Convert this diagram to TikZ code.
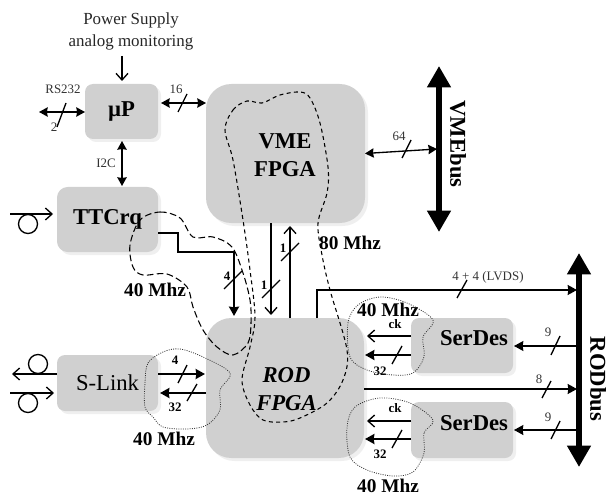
\documentclass[tikz,border=0pt]{standalone}
\usepackage{fontspec}
\setmainfont{Liberation Serif}
\usetikzlibrary{arrows.meta}
\definecolor{boxgray}{HTML}{D0D0D0}
\definecolor{shadowgray}{HTML}{EFEFEF}
\tikzset{
  blockbox/.style={fill=boxgray,draw=none,inner sep=0pt,outer sep=0pt,align=center,font=\fontsize{17}{21}\selectfont\bfseries},
  smallround/.style={rounded corners=6pt},
  biground/.style={rounded corners=19pt},
  shade box/.style={fill=shadowgray,draw=none},
  wire/.style={line width=1pt,black},
  thickwire/.style={line width=1.5pt,black},
  solid tip/.style={-{Stealth[length=7pt,width=7.5pt,inset=0.5pt]}},
  both tip/.style={{Stealth[length=6.5pt,width=7pt,inset=0.5pt]}-{Stealth[length=6.5pt,width=7pt,inset=0.5pt]}},
  open tip/.style={-{Straight Barb[length=5pt,width=9pt,line width=1pt]}},
  slashmark/.style={line width=1pt,black},
  busboth/.style={line width=5pt,black,{Triangle[length=16pt,width=17pt]}-{Triangle[length=16pt,width=17pt]}},
  tinylabel/.style={font=\fontsize{9.7}{11}\selectfont,text=black!80,inner sep=0pt},
  boldtiny/.style={font=\fontsize{9.7}{11}\selectfont\bfseries,inner sep=0pt},
  freqlabel/.style={font=\fontsize{14.5}{16}\selectfont\bfseries,inner sep=0pt},
  busname/.style={font=\fontsize{17}{20}\selectfont\bfseries,rotate=-90,inner sep=0pt},
  dashblob/.style={black,line width=0.8pt,dash pattern=on 5pt off 2.5pt},
  shortblob/.style={black,line width=0.8pt,dash pattern=on 3pt off 2.5pt},
  dotblob/.style={black!80,line width=0.6pt,dash pattern=on 0.7pt off 1pt},
  fibre/.style={line width=1pt,black},
}
\begin{document}
\begin{tikzpicture}[x=0.75pt,y=-0.75pt]
\useasboundingbox (0,0) rectangle (613,495);
% shadows
\fill[shade box,smallround] (88,87) rectangle (161,142);
\fill[shade box,rounded corners=8pt] (60,190) rectangle (161,255);
\fill[shade box,biground] (209,87) rectangle (368,226);
\fill[shade box,biground] (209,321) rectangle (367,461);
\fill[shade box,smallround] (60,358) rectangle (161,414);
\fill[shade box,smallround] (414,321) rectangle (516,376);
\fill[shade box,smallround] (414,405) rectangle (516,461);
% blocks
\node[blockbox,smallround,minimum width=54.75pt,minimum height=41.25pt] (up) at (121.5,111.5) {µP};
\node[blockbox,rounded corners=8pt,minimum width=75.75pt,minimum height=48.75pt] (ttc) at (107.5,219.5) {TTCrq};
\node[blockbox,biground,minimum width=119.25pt,minimum height=104.25pt] (vme) at (285.5,153.5) {};
\node[blockbox,biground,minimum width=118.5pt,minimum height=105pt] (rod) at (285,388) {};
\node[blockbox,smallround,minimum width=75.75pt,minimum height=42pt,font=\fontsize{17}{21}\selectfont] (slink) at (107.5,383) {S-Link};
\node[blockbox,smallround,minimum width=76.5pt,minimum height=41.25pt] (sd1) at (462,345.5) {};
\node[blockbox,smallround,minimum width=76.5pt,minimum height=42pt] (sd2) at (462,430) {};
\node[blockbox,fill=none] (vmet) at (285,155) {VME\\FPGA};
\node[blockbox,fill=none,font=\fontsize{17}{21}\selectfont\bfseries\itshape] (rodt) at (286.5,389.5) {ROD\\FPGA};
\node[blockbox,fill=none] (sd1t) at (474,338) {SerDes};
\node[blockbox,fill=none] (sd2t) at (474,423) {SerDes};
% named free ends
\coordinate (psin) at (122,56);
\coordinate (rsfree) at (39,112);
\coordinate (ttcin) at (10,214);
\coordinate (fibA) at (12,374);
\coordinate (fibB) at (10,393);
\node[busname] (vmebusname) at (458,144) {VMEbus};
\node[busname] (rodbusname) at (598,379) {RODbus};
\coordinate (vmebusT) at (439,66);
\coordinate (vmebusB) at (439,232);
\coordinate (rodbusT) at (579,253);
\coordinate (rodbusB) at (579,467);
% buses
\draw[busboth] (vmebusT) -- (vmebusB);
\draw[busboth] (rodbusT) -- (rodbusB);
% top left
\node[font=\fontsize{12.7}{16.5}\selectfont,align=center,inner sep=0pt,text=black!85] (pstext) at (131,31) {Power Supply\\analog monitoring};
\draw[wire,open tip] (psin) -- (122,81);
\node[tinylabel] (rslabel) at (63,89) {RS232};
\draw[wire,both tip] (rsfree) -- (up.west |- 0,112);
\draw[slashmark] (57,127) -- (66,103);
\node[tinylabel] (rs2) at (54,127) {2};
\node[tinylabel] (l16) at (176,89) {16};
\draw[wire,both tip] (161,103) -- (vme.west |- 0,103);
\draw[slashmark] (178,112) -- (187,94);
\node[tinylabel] (i2c) at (106,163) {I2C};
\draw[wire,line width=1.2pt,both tip] (122,141) -- (122,186);
% TTC in
\draw[fibre,open tip] (ttcin) -- (53,214);
\draw[fibre] (28,224) circle[radius=9.5];
% TTC out
\draw[thickwire,solid tip] (ttc.east |- 0,233) -- (178,233) -- (178,252) -- (234,252) -- (234,316);
\draw[slashmark] (224,289) -- (242,271);
\node[boldtiny] (l4a) at (227,276) {4};
% VME-ROD
\draw[wire,open tip] (271,223) -- (271,315);
\draw[wire,open tip] (290,318) -- (290,226);
\draw[slashmark] (262,298) -- (280,280);
\draw[slashmark] (281,261) -- (299,243);
\node[boldtiny] (l1a) at (264,285) {1};
\node[boldtiny] (l1b) at (283,248) {1};
\node[freqlabel] (f80) at (350,243) {80 Mhz};
% VME bus
\draw[wire,both tip] (vme.east) -- (437,149);
\draw[slashmark] (402,158) -- (411,140);
\node[tinylabel] (l64) at (399,136) {64};
% LVDS
\draw[wire,solid tip] (317,318) -- (317,290) -- (577,290);
\draw[slashmark] (457,298) -- (467,280);
\node[tinylabel] (lvds) at (488,277) {4 + 4 (LVDS)};
% SerDes 1
\draw[wire,open tip] (sd1.west |- 0,336) -- (367,336);
\draw[thickwire,solid tip] (sd1.west |- 0,355) -- (365,355);
\draw[slashmark] (392,364) -- (402,346);
\node[boldtiny] (ck1) at (395,324) {ck};
\node[boldtiny] (l32a) at (380,371) {32};
\draw[wire,solid tip] (578,346) -- (514,346);
\draw[slashmark] (551,355) -- (560,336);
\node[tinylabel] (l9a) at (548,332) {9};
% 8
\draw[wire,solid tip] (rod.east |- 0,389) -- (577,389);
\draw[slashmark] (542,398) -- (551,381);
\node[tinylabel] (l8) at (539,379) {8};
% SerDes 2
\draw[wire,open tip] (sd2.west |- 0,421) -- (367,421);
\draw[thickwire,solid tip] (sd2.west |- 0,439) -- (365,439);
\draw[slashmark] (392,448) -- (402,430);
\node[boldtiny] (ck2) at (395,408) {ck};
\node[boldtiny] (l32b) at (380,454) {32};
\draw[wire,solid tip] (578,430) -- (514,430);
\draw[slashmark] (551,439) -- (560,421);
\node[tinylabel] (l9b) at (548,417) {9};
% S-Link
\draw[thickwire,solid tip] (slink.east |- 0,374) -- (205,374);
\draw[thickwire,solid tip] (rod.west |- 0,393) -- (160,393);
\draw[slashmark] (178,383) -- (187,365);
\draw[slashmark] (187,401) -- (197,384);
\node[boldtiny] (l4b) at (175,360) {4};
\node[boldtiny] (l32c) at (175,407) {32};
\draw[fibre,open tip] (slink.west |- 0,374) -- (fibA);
\draw[fibre] (38,364) circle[radius=9.5];
\draw[fibre,open tip] (fibB) -- (54,393);
\draw[fibre] (28,403) circle[radius=9.5];
% frequency labels
\node[freqlabel] (f40a) at (155,290) {40 Mhz};
\node[freqlabel] (f40b) at (164,439) {40 Mhz};
\node[freqlabel] (f40c) at (388,310) {40 Mhz};
\node[freqlabel] (f40d) at (388,486) {40 Mhz};
% clock domains
\draw[dashblob] plot[smooth cycle,tension=0.55] coordinates {(140,220) (160,212) (180,218) (193,237) (213,237) (232,247) (243,273) (250,300) (251,323) (248,343) (233,355) (217,347) (203,330) (193,307) (187,287) (167,274) (143,275) (133,267) (130,245)};
\draw[shortblob] plot[smooth cycle,tension=0.55] coordinates {(225,130) (233,110) (247,101) (262,103) (280,95) (300,92) (310,98) (320,123) (328,167) (327,193) (318,223) (322,255) (330,290) (347,350) (343,380) (327,403) (300,418) (283,422) (263,420) (250,405) (242,380) (250,347) (255,317) (250,270) (243,220) (233,160)};
\draw[dotblob] plot[smooth cycle,tension=0.55] coordinates {(145,383) (148,363) (163,352) (180,349) (203,357) (230,373) (220,390) (220,410) (207,425) (187,429) (163,427) (153,417) (145,407)};
\draw[dotblob] plot[smooth cycle,tension=0.55] coordinates {(433,320) (423,337) (424,357) (413,373) (393,375) (367,370) (350,357) (348,323) (358,305) (380,297) (407,303)};
\draw[dotblob] plot[smooth cycle,tension=0.55] coordinates {(433,420) (424,433) (424,453) (413,472) (393,476) (367,470) (350,457) (347,427) (355,407) (380,398) (410,403)};
\end{tikzpicture}
\end{document}
